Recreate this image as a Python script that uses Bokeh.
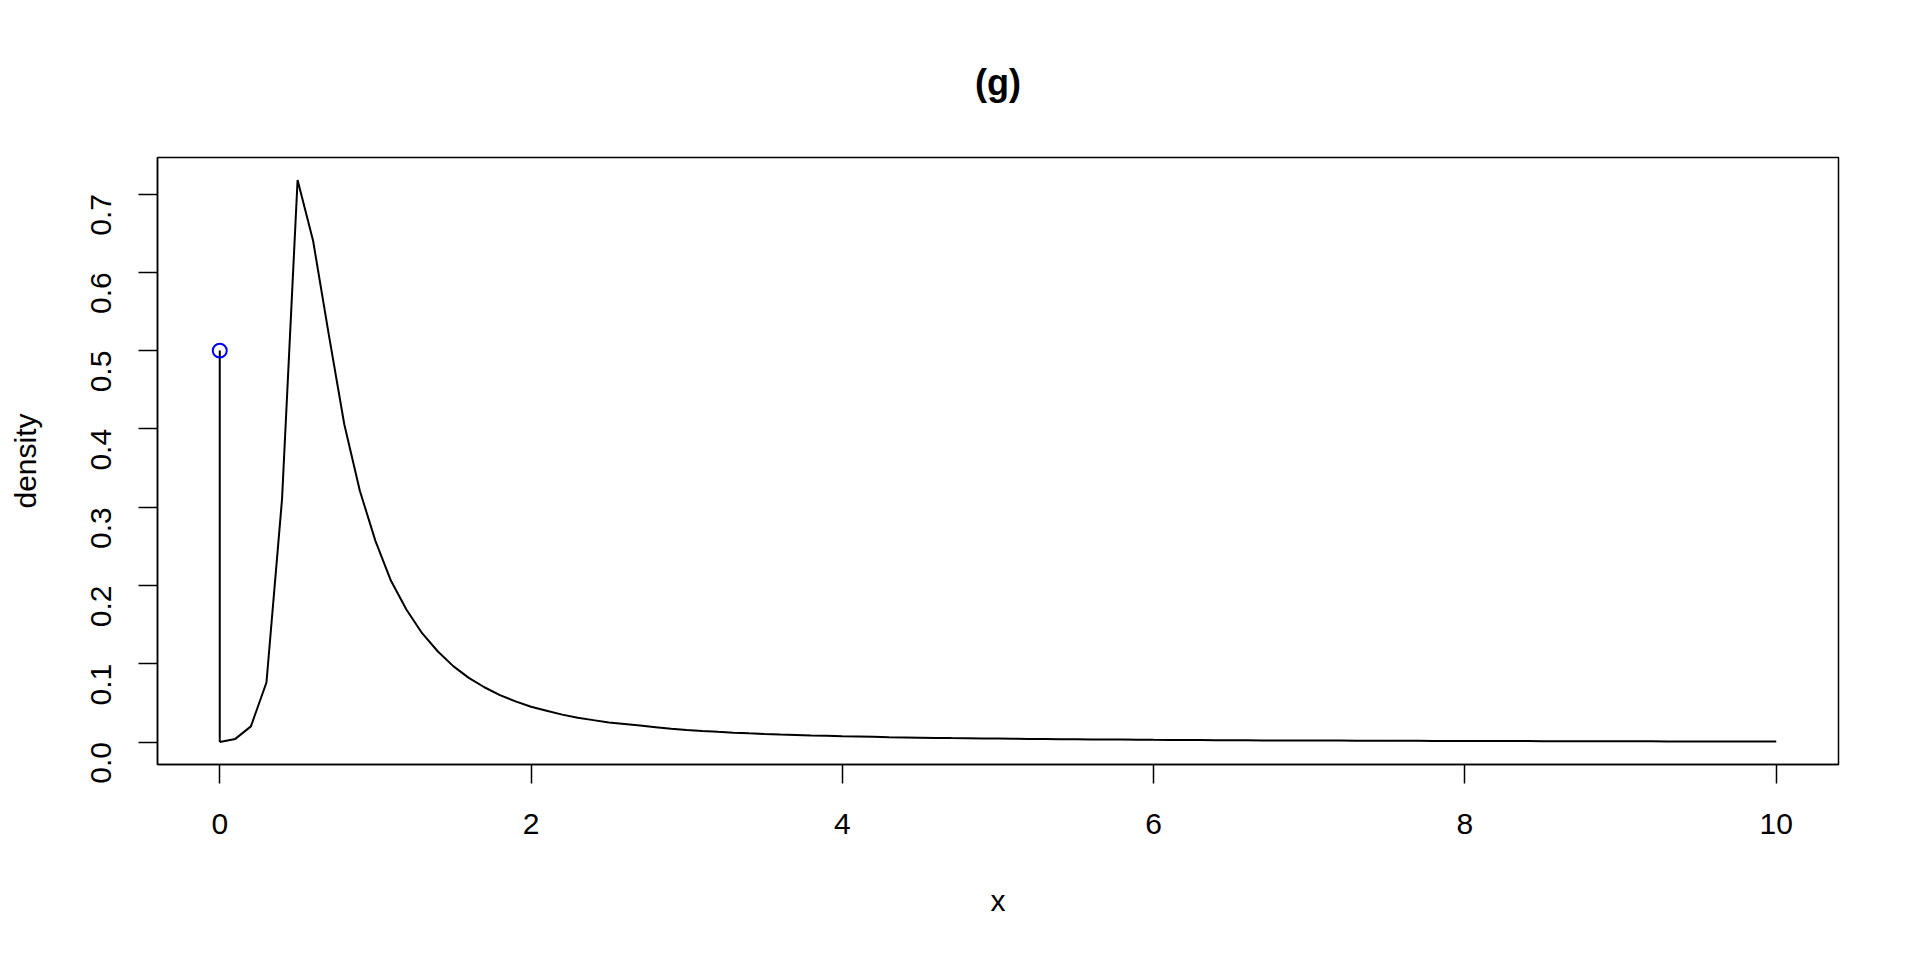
import math
from bokeh.plotting import figure
from bokeh.models import Range1d, FixedTicker, PrintfTickFormatter, ColumnDataSource
from bokeh.embed import file_html
from bokeh.resources import INLINE

# ---- data ----
x_vals = [0.0, 0.1, 0.2, 0.3, 0.4, 0.5, 0.6, 0.7, 0.8, 0.9,
          1.0, 1.1, 1.2, 1.3, 1.4, 1.5, 1.6, 1.7, 1.8, 1.9,
          2.0, 2.1, 2.2, 2.3, 2.4, 2.5, 2.6, 2.7, 2.8, 2.9,
          3.0, 3.1, 3.2, 3.3, 3.4, 3.5, 3.6, 3.7, 3.8, 3.9,
          4.0, 4.1, 4.2, 4.3, 4.4, 4.5, 4.6, 4.7, 4.8, 4.9,
          5.0, 5.1, 5.2, 5.3, 5.4, 5.5, 5.6, 5.7, 5.8, 5.9,
          6.0, 6.1, 6.2, 6.3, 6.4, 6.5, 6.6, 6.7, 6.8, 6.9,
          7.0, 7.1, 7.2, 7.3, 7.4, 7.5, 7.6, 7.7, 7.8, 7.9,
          8.0, 8.1, 8.2, 8.3, 8.4, 8.5, 8.6, 8.7, 8.8, 8.9,
          9.0, 9.1, 9.2, 9.3, 9.4, 9.5, 9.6, 9.7, 9.8, 9.9,
          10.0]
density = [0.000, 0.004, 0.020, 0.076, 0.310, 0.718, 0.640, 0.521, 0.406, 0.321,
           0.257, 0.206, 0.169, 0.139, 0.116, 0.097, 0.082, 0.070, 0.060, 0.052,
           0.045, 0.040, 0.035, 0.031, 0.028, 0.025, 0.023, 0.021, 0.019, 0.017,
           0.0155, 0.0142, 0.0130, 0.0120, 0.0111, 0.0103, 0.0096, 0.0090, 0.0084, 0.0079,
           0.0074, 0.0070, 0.0066, 0.0062, 0.0059, 0.0056, 0.0053, 0.0050, 0.0048, 0.0046,
           0.0044, 0.0042, 0.0040, 0.0038, 0.0036, 0.0035, 0.0033, 0.0032, 0.0031, 0.0030,
           0.0028, 0.0027, 0.0026, 0.0025, 0.0024, 0.0023, 0.0022, 0.0021, 0.0021, 0.0020,
           0.0019, 0.0018, 0.0018, 0.0017, 0.0017, 0.0016, 0.0015, 0.0015, 0.0014, 0.0014,
           0.0013, 0.0013, 0.0012, 0.0012, 0.0012, 0.0011, 0.0011, 0.0010, 0.0010, 0.0010,
           0.0009, 0.0009, 0.0009, 0.0008, 0.0008, 0.0008, 0.0008, 0.0007, 0.0007, 0.0007,
           0.0007]
mass_x = [0.0]
mass_p = [0.5]

x_ticks = [0, 2, 4, 6, 8, 10]
y_ticks = [0.0, 0.1, 0.2, 0.3, 0.4, 0.5, 0.6, 0.7]

title_text = "(g)"
x_label = "x"
y_label = "density"

FONT = "Liberation Sans"

p = figure(width=1904, height=944, output_backend="svg", toolbar_location=None,
           x_range=Range1d(-0.4, 10.4), y_range=Range1d(-0.0287, 0.7467),
           min_border_left=157, min_border_right=66, min_border_top=157,
           min_border_bottom=180, title=title_text)

p.background_fill_color = "white"
p.border_fill_color = "white"
p.outline_line_color = "black"
p.outline_line_width = 1.5
p.grid.visible = False

p.title.align = "center"
p.title.text_font = FONT
p.title.text_font_size = "36px"
p.title.text_font_style = "bold"
p.title.text_color = "black"
p.title.standoff = 110

for ax in (p.xaxis[0], p.yaxis[0]):
    ax.axis_line_color = "black"
    ax.axis_line_width = 1.5
    ax.major_tick_line_color = "black"
    ax.major_tick_line_width = 1.5
    ax.major_tick_out = 19
    ax.major_tick_in = 0
    ax.minor_tick_line_color = None
    ax.major_label_text_font = FONT
    ax.major_label_text_font_size = "30px"
    ax.major_label_text_color = "black"
    ax.axis_label_text_font = FONT
    ax.axis_label_text_font_size = "30px"
    ax.axis_label_text_font_style = "normal"
    ax.axis_label_text_color = "black"

p.xaxis[0].ticker = FixedTicker(ticks=x_ticks)
p.yaxis[0].ticker = FixedTicker(ticks=y_ticks)
p.yaxis[0].formatter = PrintfTickFormatter(format="%.1f")
p.yaxis[0].major_label_orientation = math.pi / 2
p.xaxis[0].axis_label = x_label
p.yaxis[0].axis_label = y_label
p.xaxis[0].major_label_standoff = 30
p.yaxis[0].major_label_standoff = 37
p.xaxis[0].axis_label_standoff = 47
p.yaxis[0].axis_label_standoff = 37

src = ColumnDataSource(dict(x=x_vals, y=density))
p.line("x", "y", source=src, line_color="black", line_width=2)

# point mass stem at x=0
p.segment(x0=mass_x, y0=[0.0] * len(mass_x), x1=mass_x, y1=mass_p,
          line_color="black", line_width=2)
p.scatter(mass_x, mass_p, marker="circle", size=14, fill_color=None,
          line_color="blue", line_width=2)

open("out.html", "w").write(file_html(p, INLINE))
